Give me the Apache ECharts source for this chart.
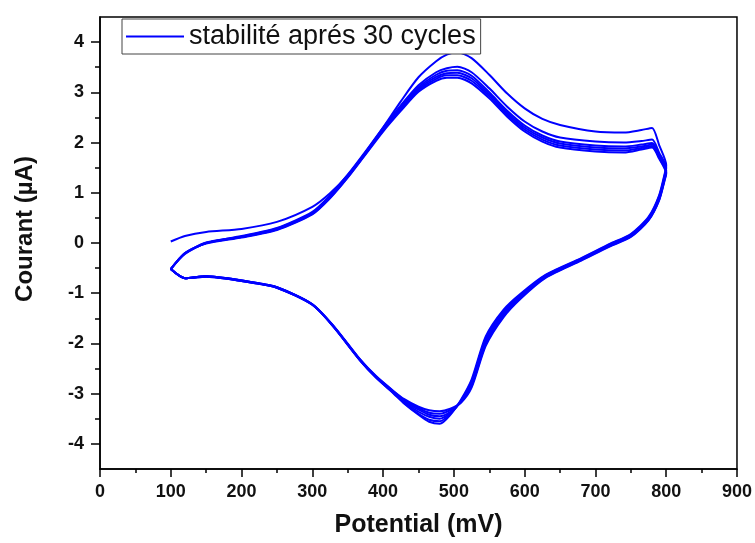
<!DOCTYPE html>
<html>
<head>
<meta charset="utf-8">
<title>CV stabilite</title>
<script src="https://cdn.jsdelivr.net/npm/echarts@6/dist/echarts.min.js"></script>
<style>
  html, body {margin:0;padding:0;background:#fff;}
  #chart {width:755px;height:543px;}
</style>
</head>
<body>
<div id="chart"></div>
<script>
// potentiel (mV) aller / retour
var fwdE = [100,120,150,200,250,300,325,350,375,400,425,450,475,490,505,525,550,575,600,625,650,700,740,765,780,790,800];
var revE = [798,790,775,750,720,680,630,595,570,545,525,510,495,480,465,450,430,415,390,367,330,300,250,215,180,150,120,100];

// courant (uA) balayage aller, cycle par cycle
var fwd1 = [0.03,0.14,0.22,0.28,0.42,0.72,0.99,1.35,1.8,2.3,2.82,3.3,3.62,3.75,3.8,3.68,3.35,2.98,2.68,2.47,2.35,2.22,2.2,2.25,2.29,1.95,1.55];
var fwd2 = [-0.52,-0.22,0.0,0.14,0.3,0.62,0.95,1.36,1.82,2.3,2.74,3.14,3.4,3.48,3.51,3.4,3.08,2.72,2.42,2.22,2.1,2.02,2.0,2.03,2.06,1.8,1.5];
var fwd3 = [-0.52,-0.21,0.01,0.13,0.29,0.6,0.93,1.34,1.8,2.28,2.7,3.1,3.35,3.43,3.44,3.33,3.0,2.64,2.34,2.14,2.02,1.94,1.92,1.96,1.99,1.75,1.45];
var fwd4 = [-0.52,-0.21,0.0,0.12,0.28,0.59,0.92,1.33,1.79,2.26,2.68,3.07,3.31,3.38,3.39,3.28,2.96,2.6,2.3,2.1,1.98,1.9,1.88,1.92,1.96,1.72,1.42];
var fwd5 = [-0.52,-0.2,0.0,0.12,0.27,0.58,0.9,1.31,1.77,2.24,2.66,3.04,3.27,3.34,3.34,3.23,2.92,2.56,2.26,2.06,1.94,1.86,1.84,1.89,1.93,1.7,1.4];
var fwd6 = [-0.52,-0.2,-0.01,0.11,0.26,0.57,0.89,1.3,1.76,2.22,2.63,3.01,3.23,3.29,3.29,3.18,2.88,2.52,2.22,2.02,1.9,1.82,1.8,1.86,1.9,1.68,1.38];

// courant (uA) balayage retour
var rev1 = [1.39,0.95,0.52,0.18,-0.02,-0.3,-0.63,-1.0,-1.33,-1.86,-2.72,-3.12,-3.42,-3.6,-3.56,-3.42,-3.2,-3.0,-2.68,-2.32,-1.66,-1.22,-0.88,-0.78,-0.7,-0.66,-0.7,-0.52];
var rev2 = [1.36,0.93,0.5,0.17,-0.03,-0.31,-0.64,-1.02,-1.36,-1.9,-2.76,-3.14,-3.4,-3.55,-3.52,-3.4,-3.19,-2.99,-2.68,-2.33,-1.67,-1.22,-0.88,-0.78,-0.7,-0.66,-0.7,-0.52];
var rev3 = [1.33,0.9,0.48,0.15,-0.04,-0.32,-0.66,-1.04,-1.39,-1.95,-2.8,-3.16,-3.38,-3.5,-3.46,-3.36,-3.17,-2.98,-2.67,-2.33,-1.67,-1.23,-0.89,-0.78,-0.7,-0.66,-0.7,-0.52];
var rev4 = [1.3,0.88,0.47,0.14,-0.05,-0.33,-0.67,-1.06,-1.42,-1.98,-2.82,-3.16,-3.36,-3.45,-3.42,-3.32,-3.15,-2.97,-2.67,-2.32,-1.66,-1.23,-0.89,-0.79,-0.71,-0.66,-0.7,-0.52];
var rev5 = [1.28,0.86,0.46,0.13,-0.06,-0.34,-0.68,-1.08,-1.45,-2.02,-2.85,-3.17,-3.33,-3.4,-3.38,-3.29,-3.13,-2.96,-2.66,-2.32,-1.66,-1.23,-0.89,-0.79,-0.71,-0.67,-0.7,-0.52];
var rev6 = [1.26,0.85,0.45,0.12,-0.07,-0.35,-0.69,-1.1,-1.48,-2.05,-2.88,-3.18,-3.3,-3.35,-3.33,-3.26,-3.11,-2.95,-2.65,-2.31,-1.65,-1.22,-0.88,-0.79,-0.71,-0.67,-0.7,-0.52];

var xTicks = [0,100,200,300,400,500,600,700,800,900];
var yTicks = [-4,-3,-2,-1,0,1,2,3,4];
var yMinor = [-3.5,-2.5,-1.5,-0.5,0.5,1.5,2.5,3.5];

var seriesName = 'stabilité aprés 30 cycles';
var cycles = [[fwd1,rev1],[fwd2,rev2],[fwd3,rev3],[fwd4,rev4],[fwd5,rev5],[fwd6,rev6]];

var font = '"Liberation Sans", Arial, sans-serif';

function cycleData(fwd, rev) {
    var d = [];
    for (var i = 0; i < fwdE.length; i++) d.push([fwdE[i], fwd[i]]);
    for (var j = 0; j < revE.length; j++) d.push([revE[j], rev[j]]);
    return d;
}

var series = [];
cycles.forEach(function (c) {
    series.push({
        name: seriesName,
        type: 'line',
        data: cycleData(c[0], c[1]),
        showSymbol: false,
        symbol: 'none',
        smooth: 0.25,
        lineStyle: {color: '#0000ff', width: 2},
        itemStyle: {color: '#0000ff'},
        animation: false
    });
});

var chart = echarts.init(document.getElementById('chart'));
chart.setOption({
    backgroundColor: '#fff',
    animation: false,
    grid: {left: 100, right: 18, top: 17, bottom: 73, show: true, borderColor: '#000', borderWidth: 1.5, backgroundColor: 'transparent'},
    legend: {
        data: [seriesName],
        left: 122, top: 19,
        icon: 'rect', itemWidth: 58, itemHeight: 2,
        borderColor: '#444', borderWidth: 1,
        backgroundColor: '#fff',
        padding: [4, 5, 4, 4],
        textStyle: {fontFamily: font, fontSize: 27, color: '#111', lineHeight: 25}
    },
    // titre de l'axe vertical, un peu au-dessus du milieu comme dans l'original
    graphic: [{
        type: 'text',
        x: 25, y: 229,
        rotation: Math.PI / 2,
        style: {text: 'Courant (µA)', font: 'bold 24px ' + font, fill: '#111', align: 'center', verticalAlign: 'middle'},
        silent: true
    }],
    xAxis: {
        type: 'value', min: 0, max: 900, interval: 100,
        name: 'Potential (mV)', nameLocation: 'middle', nameGap: 44,
        nameTextStyle: {fontFamily: font, fontSize: 25, fontWeight: 'bold', color: '#111'},
        axisLine: {onZero: false, lineStyle: {color: '#000', width: 1.5}},
        axisTick: {inside: false, length: 8, lineStyle: {color: '#000', width: 1.5}},
        minorTick: {show: true, splitNumber: 2, length: 4, lineStyle: {color: '#000', width: 1.5}},
        axisLabel: {fontFamily: font, fontSize: 18, fontWeight: 'bold', color: '#111', margin: 14,
            customValues: xTicks},
        splitLine: {show: false}
    },
    yAxis: [{
        type: 'value', min: -4.5, max: 4.5,
        axisLine: {onZero: false, lineStyle: {color: '#000', width: 1.5}},
        axisTick: {inside: false, length: 9, customValues: yTicks, lineStyle: {color: '#000', width: 1.5}},
        axisLabel: {fontFamily: font, fontSize: 18, fontWeight: 'bold', color: '#111', margin: 16,
            customValues: yTicks},
        splitLine: {show: false}
    }, {
        // petites graduations aux demi-unites
        type: 'value', min: -4.5, max: 4.5, position: 'left',
        axisLine: {show: false},
        axisTick: {show: true, inside: false, length: 5, customValues: yMinor, lineStyle: {color: '#000', width: 1.5}},
        axisLabel: {show: false},
        splitLine: {show: false}
    }],
    series: series
});
</script>
</body>
</html>
